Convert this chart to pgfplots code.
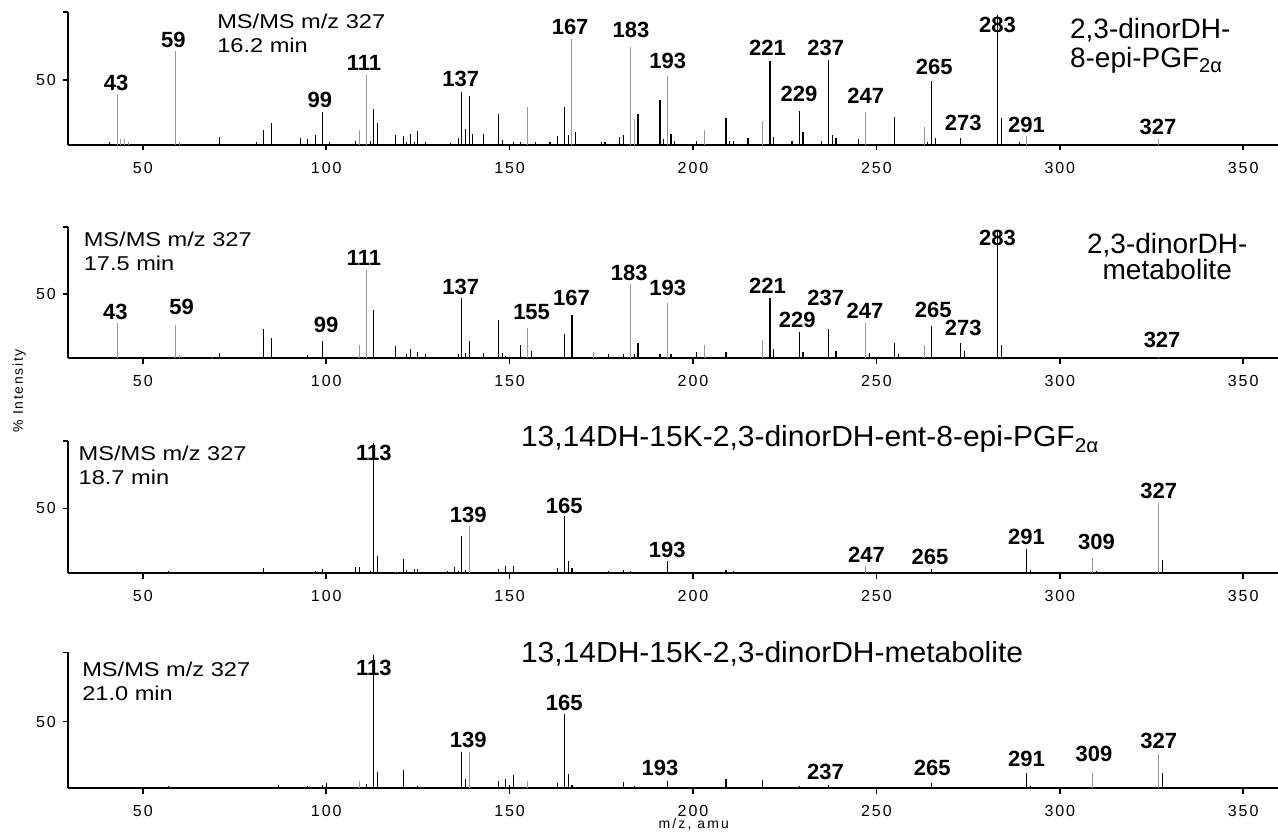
\documentclass[border=0pt]{standalone}
\usepackage{fontspec}
\setmainfont{Liberation Sans}
\usepackage{graphicx}
\usepackage{pgfplots}
\pgfplotsset{compat=1.18}
\pgfplotsset{
  msaxis/.style={
    scale only axis, width=605pt,
    xmin=29.6, xmax=359.5, ymin=0, ymax=102,
    axis x line=bottom, axis y line=left,
    axis line style={-, line width=0.9pt},
    xtick={50,100,...,350}, ytick={50,102}, yticklabels={50,{}},
    tick align=outside, major tick length=2.6pt,
    tick style={black, line width=0.8pt},
    minor tick num=0,
    clip=false,
    /pgf/number format/assume math mode=true,
    ticklabel style={font=\fontsize{8}{9}\selectfont\addfontfeature{LetterSpace=12}},
    xticklabel style={yshift=-2.5pt},
  },
  dark/.style={ycomb, black, line width=0.55pt, mark=none},
  light/.style={ycomb, black!40, line width=0.5pt, mark=none},
}
\tikzset{
  pk/.style={font=\fontsize{11}{12}\selectfont\bfseries, inner sep=0pt},
  mst/.style={font=\fontsize{10}{12}\selectfont, inner sep=0pt, anchor=north west, yshift=1.2pt},
}
\newcommand{\mstext}[2]{\scalebox{1.18}[1]{\begin{tabular}{@{}l@{}}#1\\#2\end{tabular}}}
\newcommand{\sub}{\raisebox{-0.35ex}{\fontsize{10}{10}\selectfont 2α}}
\begin{document}
\begin{tikzpicture}
\useasboundingbox (0,0) rectangle (639pt,416pt);
% ---------------- Panel 1
\begin{axis}[msaxis, at={(34pt,343.5pt)}, anchor=south west, height=66.5pt]
\addplot[dark] coordinates {(41,2.6)(71,6.4)(81,2.6)(83,11.5)(85,17.2)(93,5)(95,4.4)(97,7.7)(99,25.6)(101,2)(108,3.3)(112,2.8)(113,27.7)(114,17.2)(119,7.7)(121,6.9)(122,2.6)(123,8.5)(124,2)(125,10.8)(127,2)(134,1.8)(136,5.1)(137,41)(138,12)(139,37.7)(140,8.2)(143,8.2)(147,23.8)(148,3.8)(151,2.6)(153,2.6)(157,2.6)(161,2)(163,6.9)(165,29.5)(166,7.7)(168,9.7)(175,2.6)(176,2)(180,6)(181,7.7)(185,23.6)(191,34.6)(192,4.4)(194,8.5)(195,3.3)(201,3.3)(209,20.5)(210,3)(211,3.3)(215,5.1)(221,64.6)(222,6.4)(227,3.3)(229,26.4)(230,9.7)(235,3.3)(237,65.4)(238,7.7)(239,5.1)(245,4.4)(255,21.3)(264,2)(265,49.2)(266,5.6)(273,5.6)(283,100)(284,20.5)(289,2)};
\addplot[light] coordinates {(43,39)(44,4.4)(45,4.4)(46,2)(59,71.8)(60,2.6)(109,11.5)(111,53.8)(155,29)(167,81.3)(183,74.9)(184,19.7)(193,53.1)(203,11.5)(219,18.5)(247,25.1)(263,13.6)(291,6.9)(327,4.4)};
\node[pk] at (axis cs:42.7,47.5) {43};
\node[pk] at (axis cs:58.3,80.8) {59};
\node[pk] at (axis cs:98.3,34.6) {99};
\node[pk] at (axis cs:110.3,62.8) {111};
\node[pk] at (axis cs:136.7,50.5) {137};
\node[pk] at (axis cs:166.5,90.5) {167};
\node[pk] at (axis cs:183.1,88.5) {183};
\node[pk] at (axis cs:193.1,64.1) {193};
\node[pk] at (axis cs:220.3,74.8) {221};
\node[pk] at (axis cs:228.9,39.2) {229};
\node[pk] at (axis cs:236.2,74.4) {237};
\node[pk] at (axis cs:247.1,37.7) {247};
\node[pk] at (axis cs:265.8,60.2) {265};
\node[pk] at (axis cs:273.7,16.7) {273};
\node[pk] at (axis cs:283,92.3) {283};
\node[pk] at (axis cs:290.9,15.4) {291};
\node[pk] at (axis cs:326.8,14.1) {327};
\node[mst] at (axis cs:70.2,100.8) {\mstext{MS/MS m/z 327}{16.2 min}};
\node[font=\fontsize{14}{14.5}\selectfont, inner sep=0pt, align=left, anchor=north west] at (axis cs:302.7,97.4) {2,3-dinorDH-\\8-epi-PGF\sub};
\end{axis}
% ---------------- Panel 2
\begin{axis}[msaxis, at={(34pt,236.85pt)}, anchor=south west, height=65.6pt]
\addplot[dark] coordinates {(71,4.4)(83,22.5)(84,1.3)(85,16.1)(93,1.3)(95,2.6)(97,1)(99,13.7)(100,1.3)(103,1.3)(113,37.6)(119,9.8)(122,3.1)(123,7.3)(125,5.2)(127,3.1)(134,1.3)(135,1.3)(136,3.1)(137,46.7)(138,3.9)(139,13.5)(143,3.9)(147,29.8)(148,3.9)(149,1.8)(153,10.4)(156,6)(161,1.3)(165,18.9)(167,33.7)(175,1.3)(177,3.4)(181,3.4)(184,3.4)(185,12.2)(191,3.4)(194,3.4)(201,5.2)(209,5.2)(221,46.7)(222,7.3)(229,20.7)(230,5.2)(237,22.8)(239,5.7)(245,1.3)(248,3.9)(255,12.2)(256,3.4)(265,25.1)(273,12.2)(274,5.7)(281,1.3)(283,100)(284,10.4)};
\addplot[light] coordinates {(43,27.2)(59,25.9)(60,2.6)(69,1.3)(109,10.4)(111,68.7)(155,23.3)(173,5.2)(183,57.8)(193,42.8)(203,10.4)(219,14.3)(247,27.2)(263,10.4)(327,1)};
\node[pk] at (axis cs:42.5,36.2) {43};
\node[pk] at (axis cs:60.6,40.1) {59};
\node[pk] at (axis cs:100,25.9) {99};
\node[pk] at (axis cs:110.3,77.8) {111};
\node[pk] at (axis cs:136.7,55.7) {137};
\node[pk] at (axis cs:156,36.2) {155};
\node[pk] at (axis cs:166.9,46.7) {167};
\node[pk] at (axis cs:182.6,66.6) {183};
\node[pk] at (axis cs:193.1,54.4) {193};
\node[pk] at (axis cs:220.3,56.2) {221};
\node[pk] at (axis cs:228.4,29.8) {229};
\node[pk] at (axis cs:236.2,46.7) {237};
\node[pk] at (axis cs:246.9,37) {247};
\node[pk] at (axis cs:265.5,37.6) {265};
\node[pk] at (axis cs:273.7,23.3) {273};
\node[pk] at (axis cs:283,93.3) {283};
\node[pk] at (axis cs:327.9,14.2) {327};
\node[mst] at (axis cs:33.8,98.4) {\mstext{MS/MS m/z 327}{17.5 min}};
\node[font=\fontsize{14}{13.2}\selectfont, inner sep=0pt, align=center, anchor=north] at (axis cs:329.3,97.7) {2,3-dinorDH-\\metabolite};
\node[font=\fontsize{7}{8}\selectfont\addfontfeature{LetterSpace=12}, rotate=90] at (axis cs:16.3,-25.4) {\% Intensity};
\end{axis}
% ---------------- Panel 3
\begin{axis}[msaxis, at={(34pt,129.35pt)}, anchor=south west, height=66.3pt]
\addplot[dark] coordinates {(57,1.8)(83,4.4)(97,2)(99,3)(108,5.1)(109,5.1)(112,2)(113,100)(114,13.3)(121,10.8)(122,2.6)(124,3)(125,3)(133,2)(135,4.6)(136,2)(137,29)(138,2.6)(140,1.3)(147,3.3)(149,5.9)(151,5.9)(163,4.4)(165,44.1)(166,9.7)(167,4.4)(175,1.3)(177,2)(181,2.6)(183,2)(191,1.3)(193,9.7)(209,2.6)(211,2)(265,3.3)(291,18.7)(292,2.6)(310,2)(328,10.3)};
\addplot[light] coordinates {(119,1.3)(139,36.4)(247,5.6)(309,11.5)(327,53.8)};
\node[pk] at (axis cs:113,92.3) {113};
\node[pk] at (axis cs:138.7,44.8) {139};
\node[pk] at (axis cs:164.9,51.8) {165};
\node[pk] at (axis cs:193,17.9) {193};
\node[pk] at (axis cs:247.3,14.1) {247};
\node[pk] at (axis cs:264.6,12.8) {265};
\node[pk] at (axis cs:290.9,27.7) {291};
\node[pk] at (axis cs:310,24.3) {309};
\node[pk] at (axis cs:327,63.5) {327};
\node[mst] at (axis cs:32.4,97.9) {\mstext{MS/MS m/z 327}{18.7 min}};
\node[font=\fontsize{14.5}{15}\selectfont, inner sep=0pt, anchor=base west] at (axis cs:153,97.4) {\scalebox{1.035}[1]{13,14DH-15K-2,3-dinorDH-ent-8-epi-PGF\sub}};
\end{axis}
% ---------------- Panel 4
\begin{axis}[msaxis, at={(34pt,21.85pt)}, anchor=south west, height=68pt]
\addplot[dark] coordinates {(57,1.8)(87,2.2)(95,2)(99,2.5)(100,4.3)(111,3)(113,100)(114,12)(121,13.8)(125,1.8)(137,27)(138,7)(147,5.2)(149,7)(150,2.7)(151,10.2)(163,3.7)(165,55.7)(166,10.7)(167,2.5)(181,5)(184,2)(193,5.2)(209,7)(219,6.2)(229,1.8)(237,2.5)(265,3.7)(291,11.2)(292,2)(328,11.7)};
\addplot[light] coordinates {(109,5.5)(139,27)(155,5.7)(309,11.2)(327,26)};
\node[pk] at (axis cs:113,90) {113};
\node[pk] at (axis cs:138.7,36.2) {139};
\node[pk] at (axis cs:164.9,64.2) {165};
\node[pk] at (axis cs:191,15) {193};
\node[pk] at (axis cs:236.1,12.5) {237};
\node[pk] at (axis cs:265.2,15.5) {265};
\node[pk] at (axis cs:290.9,21.7) {291};
\node[pk] at (axis cs:309.3,25.5) {309};
\node[pk] at (axis cs:327,35.7) {327};
\node[mst] at (axis cs:33.4,95) {\mstext{MS/MS m/z 327}{21.0 min}};
\node[font=\fontsize{14.5}{15}\selectfont, inner sep=0pt, anchor=base west] at (axis cs:153,94.2) {\scalebox{1.035}[1]{13,14DH-15K-2,3-dinorDH-metabolite}};
\node[font=\fontsize{7}{8}\selectfont\addfontfeature{LetterSpace=15}] at (axis cs:200.2,-27.2) {m/z, amu};
\end{axis}
\end{tikzpicture}
\end{document}
